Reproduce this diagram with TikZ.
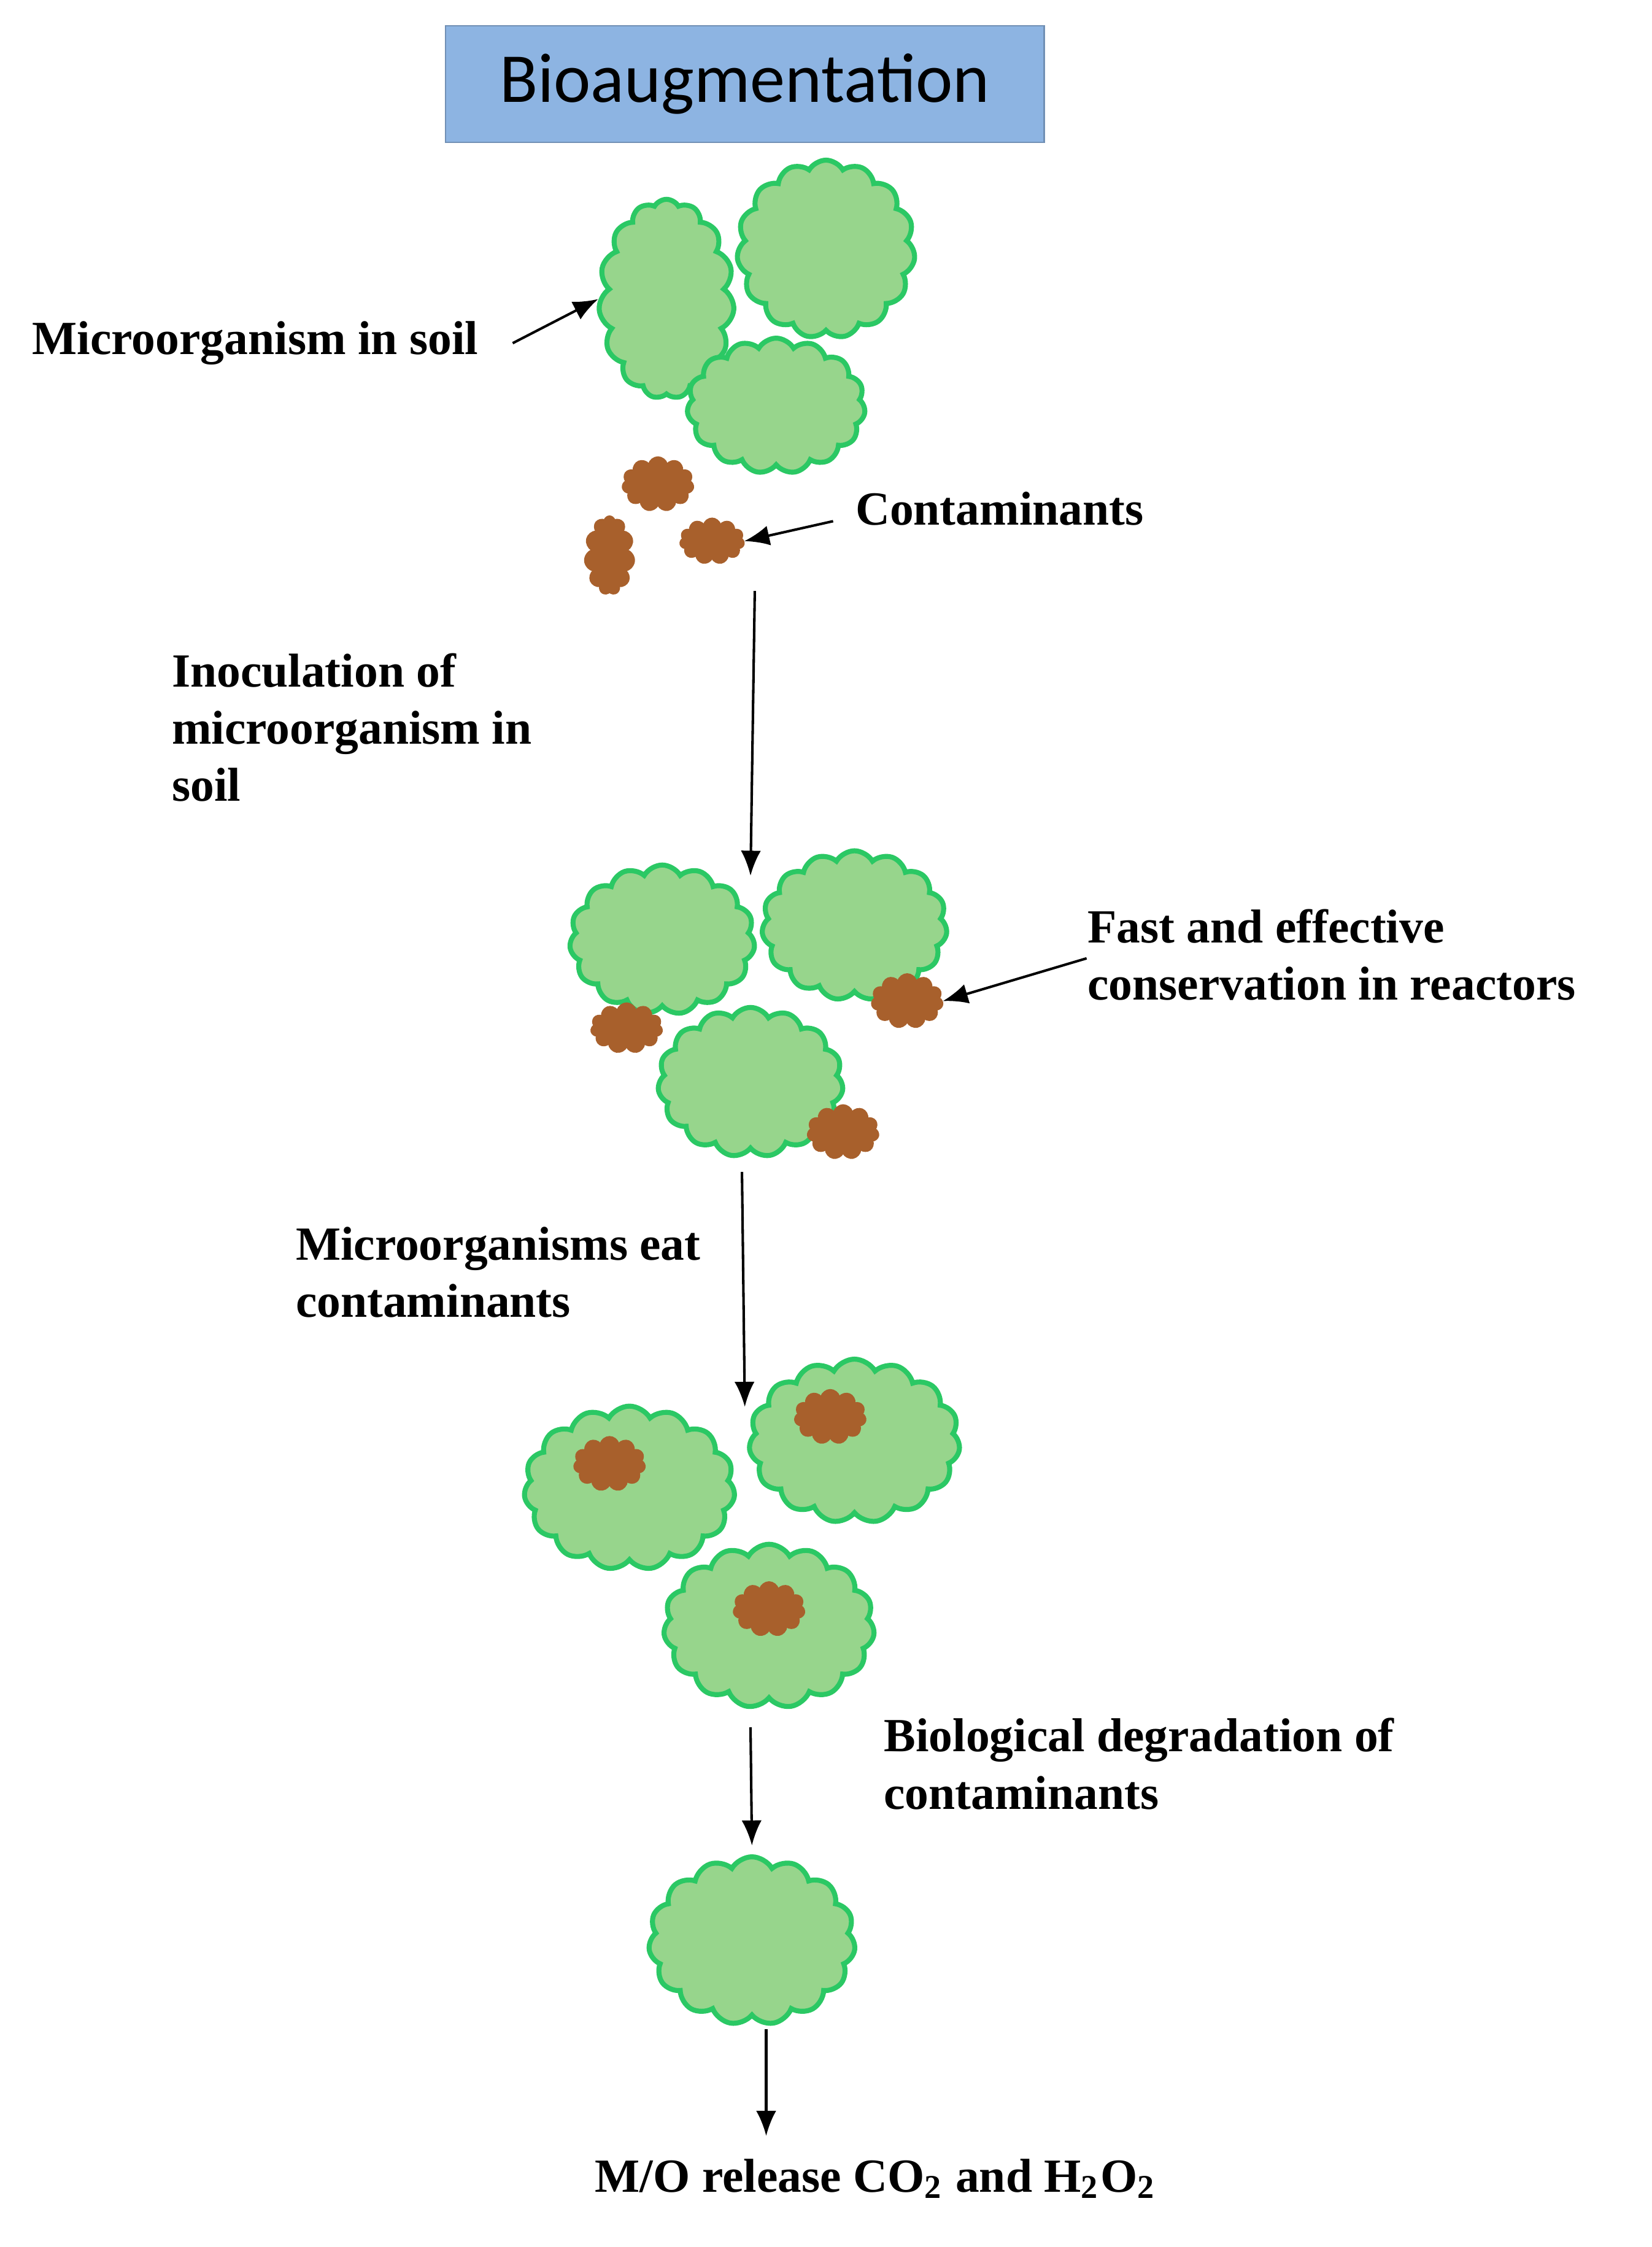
\documentclass[tikz,border=0pt]{standalone}
\usepackage{fontspec}
\setmainfont{Liberation Serif}
\newfontfamily\titlefont{Carlito}
\usetikzlibrary{shapes.symbols,arrows.meta}
\definecolor{cellfill}{HTML}{97D58C}
\definecolor{celledge}{HTML}{2BC864}
\definecolor{dirt}{HTML}{A8602C}
\definecolor{titlebg}{HTML}{8DB4E2}
\begin{document}
\begin{tikzpicture}[x=0.01cm,y=-0.01cm,
  cell/.style={cloud,cloud puffs=15,cloud puff arc=120,fill=cellfill,draw=celledge,line width=1pt,inner sep=0pt},
  blob/.style={cloud,cloud puffs=11,cloud puff arc=150,fill=dirt,draw=dirt,line width=0.3pt,inner sep=0pt},
  lbl/.style={font=\bfseries\fontsize{9.5}{11.4}\selectfont,align=left,inner sep=0pt},
  arr/.style={-{Latex[length=5pt,width=4pt]},line width=0.5pt}]
\useasboundingbox (0,0) rectangle (1160,1578);
\node[fill=titlebg,draw=titlebg!80!black,line width=0.3pt,minimum width=4.2cm,minimum height=0.82cm,font=\titlefont\fontsize{14}{16}\selectfont] (title) at (523,59) {Bioaugmentation};
% group 1
\node[cell,minimum width=0.95cm,minimum height=1.4cm] (g1a) at (468,210) {};
\node[cell,minimum width=1.25cm,minimum height=1.25cm] (g1b) at (580,175) {};
\node[cell,minimum width=1.25cm,minimum height=0.95cm] (g1c) at (545,285) {};
\node[blob,minimum width=0.5cm,minimum height=0.38cm] (c1) at (462,340) {};
\node[blob,minimum width=0.35cm,minimum height=0.55cm] (c2) at (428,390) {};
\node[blob,minimum width=0.45cm,minimum height=0.32cm] (c3) at (500,380) {};
\node[lbl,anchor=west] (l1) at (22,241) {Microorganism in soil};
\coordinate (l1e) at (360,241);
\draw[arr] (l1e) -- (g1a.west);
\node[lbl,anchor=west] (l2) at (600,357) {Contaminants};
\coordinate (l2s) at (585,366);
\draw[arr] (l2s) -- (c3.east);
\coordinate (a1s) at (530,415);
\coordinate (a1e) at (527,615);
\draw[arr] (a1s) -- (a1e);
\node[lbl,anchor=north west] (l3) at (120,458) {Inoculation of\\microorganism in\\soil};
% group 2
\node[cell,minimum width=1.3cm,minimum height=1.05cm] (g2a) at (465,660) {};
\node[cell,minimum width=1.3cm,minimum height=1.05cm] (g2b) at (600,650) {};
\node[blob,minimum width=0.5cm,minimum height=0.35cm] (c4) at (440,722) {};
\node[blob,minimum width=0.5cm,minimum height=0.38cm] (c5) at (637,703) {};
\node[cell,minimum width=1.3cm,minimum height=1.05cm] (g2c) at (527,760) {};
\node[blob,minimum width=0.5cm,minimum height=0.38cm] (c6) at (592,795) {};
\node[lbl,anchor=north west] (l4) at (763,638) {Fast and effective\\conservation in reactors};
\coordinate (l4s) at (763,673);
\draw[arr] (l4s) -- (c5.east);
\coordinate (a2s) at (521,823);
\coordinate (a2e) at (523,988);
\draw[arr] (a2s) -- (a2e);
\node[lbl,anchor=north west] (l5) at (207,861) {Microorganisms eat\\contaminants};
% group 3
\node[cell,minimum width=1.48cm,minimum height=1.15cm] (g3a) at (442,1045) {};
\node[cell,minimum width=1.48cm,minimum height=1.15cm] (g3b) at (600,1012) {};
\node[cell,minimum width=1.48cm,minimum height=1.15cm] (g3c) at (540,1142) {};
\node[blob,minimum width=0.5cm,minimum height=0.38cm] (c7) at (428,1028) {};
\node[blob,minimum width=0.5cm,minimum height=0.38cm] (c8) at (583,995) {};
\node[blob,minimum width=0.5cm,minimum height=0.38cm] (c9) at (540,1130) {};
\coordinate (a3s) at (527,1213);
\coordinate (a3e) at (528,1296);
\draw[arr] (a3s) -- (a3e);
\node[lbl,anchor=north west] (l6) at (620,1206) {Biological degradation of\\contaminants};
% final
\node[cell,minimum width=1.45cm,minimum height=1.18cm] (g4) at (528,1363) {};
\coordinate (a4s) at (538,1425);
\coordinate (a4e) at (538,1500);
\draw[arr] (a4s) -- (a4e);
\node[lbl] (l7) at (615,1530) {M/O release CO\textsubscript{2} and H\textsubscript{2}O\textsubscript{2}};
\end{tikzpicture}
\end{document}
